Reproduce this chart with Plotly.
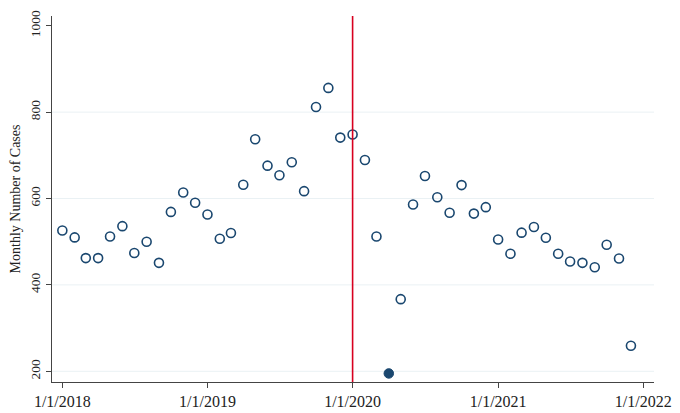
import plotly.graph_objects as go
import pandas as pd

months = pd.date_range("2018-01-01", "2021-12-01", freq="MS")
cases = [526, 510, 462, 462, 512, 536, 474, 500, 451, 569, 614, 590,
         563, 507, 520, 632, 737, 676, 654, 684, 617, 812, 856, 741,
         748, 689, 512, 195, 367, 586, 652, 603, 567, 631, 565, 580,
         505, 472, 521, 534, 509, 472, 454, 451, 441, 493, 461, 259]
filled_month = "2020-04-01"
event_date = "2020-01-01"
x_tickvals = ["2018-01-01", "2019-01-01", "2020-01-01", "2021-01-01", "2022-01-01"]
x_ticktext = ["1/1/2018", "1/1/2019", "1/1/2020", "1/1/2021", "1/1/2022"]
y_tickvals = [200, 400, 600, 800, 1000]
grid_vals = [200, 400, 600, 800]

navy = "#1a476f"
font_family = "Liberation Serif, Times New Roman, serif"

hollow_x = [m for m in months if m != pd.Timestamp(filled_month)]
hollow_y = [c for m, c in zip(months, cases) if m != pd.Timestamp(filled_month)]
fill_x = [m for m in months if m == pd.Timestamp(filled_month)]
fill_y = [c for m, c in zip(months, cases) if m == pd.Timestamp(filled_month)]

fig = go.Figure()
fig.add_trace(go.Scatter(x=hollow_x, y=hollow_y, mode="markers",
                         marker=dict(symbol="circle-open", size=9, color=navy,
                                     line=dict(width=1.6, color=navy)),
                         showlegend=False, cliponaxis=False))
fig.add_trace(go.Scatter(x=fill_x, y=fill_y, mode="markers",
                         marker=dict(symbol="circle", size=9.5, color=navy,
                                     line=dict(width=1, color=navy)),
                         showlegend=False, cliponaxis=False))

shapes = []
for g in grid_vals:
    shapes.append(dict(type="line", xref="paper", yref="y", x0=0, x1=1, y0=g, y1=g,
                       line=dict(color="#eaf1f4", width=1), layer="below"))
shapes.append(dict(type="line", xref="x", yref="paper", x0=event_date, x1=event_date,
                   y0=0, y1=1, line=dict(color="#d8001f", width=1.6)))
shapes.append(dict(type="rect", xref="paper", yref="paper", x0=-0.2, x1=1.035,
                   y0=-0.2, y1=1.2, line=dict(color="#e8eff4", width=1.5),
                   fillcolor="rgba(0,0,0,0)", layer="below"))

fig.update_layout(
    width=672, height=405,
    margin=dict(l=44, r=26, t=8, b=31),
    paper_bgcolor="white", plot_bgcolor="white",
    font=dict(family=font_family, size=14, color="#222"),
    shapes=shapes,
    xaxis=dict(type="date", range=["2017-12-06", "2022-01-28"],
               tickvals=x_tickvals, ticktext=x_ticktext, automargin=False,
               showgrid=False, zeroline=False,
               showline=True, linecolor="#444", linewidth=1.3,
               ticks="outside", ticklen=5, tickcolor="#444", tickwidth=1.2,
               tickfont=dict(size=16, color="#222")),
    yaxis=dict(range=[175.2, 1022.5], tickvals=y_tickvals, automargin=False,
               showgrid=False, zeroline=False,
               showline=True, linecolor="#444", linewidth=1.3,
               ticks="outside", ticklen=5, tickcolor="#444", tickwidth=1.2,
               tickangle=-90, tickfont=dict(size=13.5, color="#222"),
               title=dict(text="Monthly Number of Cases", standoff=6,
                          font=dict(size=14, color="#222"))),
)

fig.write_html("out.html")
